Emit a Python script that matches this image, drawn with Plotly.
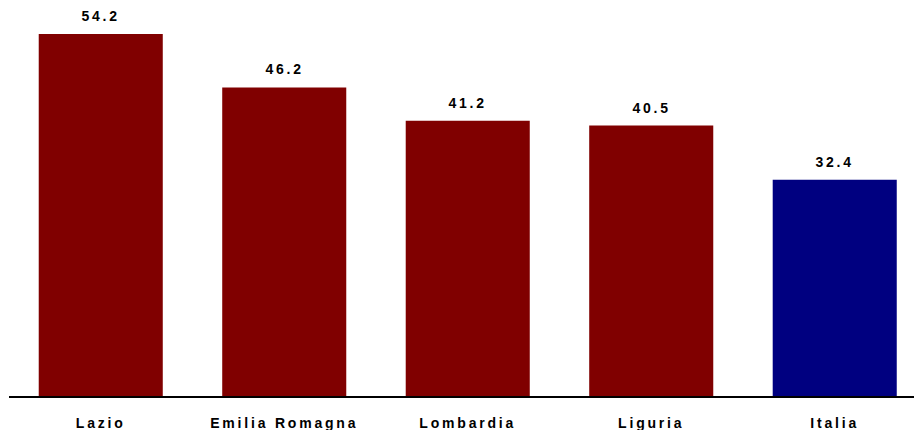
import plotly.graph_objects as go

categories = ["Lazio", "Emilia Romagna", "Lombardia", "Liguria", "Italia"]
values = [54.2, 46.2, 41.2, 40.5, 32.4]
value_labels = ["54.2", "46.2", "41.2", "40.5", "32.4"]
bar_colors = ["#800000", "#800000", "#800000", "#800000", "#000080"]

FONT = "Liberation Sans, Arial, sans-serif"

fig = go.Figure(
    go.Bar(
        x=categories,
        y=values,
        marker=dict(color=bar_colors, line=dict(width=0)),
        hoverinfo="skip",
    )
)

for cat, val, lab in zip(categories, values, value_labels):
    fig.add_annotation(
        x=cat, y=val, text=lab, showarrow=False,
        yanchor="bottom", yshift=8,
        font=dict(family=FONT, size=14, color="#000000", weight="bold"),
    )

fig.update_layout(
    width=914,
    height=430,
    margin=dict(l=9, r=0, t=0, b=34),
    paper_bgcolor="white",
    plot_bgcolor="white",
    bargap=0.324,
    showlegend=False,
    xaxis=dict(
        range=[-0.5, 4.432],
        showline=True,
        linecolor="#000000",
        linewidth=1.5,
        ticks="",
        showgrid=False,
        zeroline=False,
        ticklabelstandoff=13,
        tickfont=dict(family=FONT, size=14, color="#000000", weight="bold"),
    ),
    yaxis=dict(
        range=[0, 59.3],
        visible=False,
        showgrid=False,
        zeroline=False,
    ),
)

post = """
document.body.style.margin = '0';
var s = document.createElement('style');
s.textContent = '.xtick text, .annotation-text { letter-spacing: 2.8px; }';
document.head.appendChild(s);
"""

fig.write_html("out.html", post_script=post, config={"displayModeBar": False})
